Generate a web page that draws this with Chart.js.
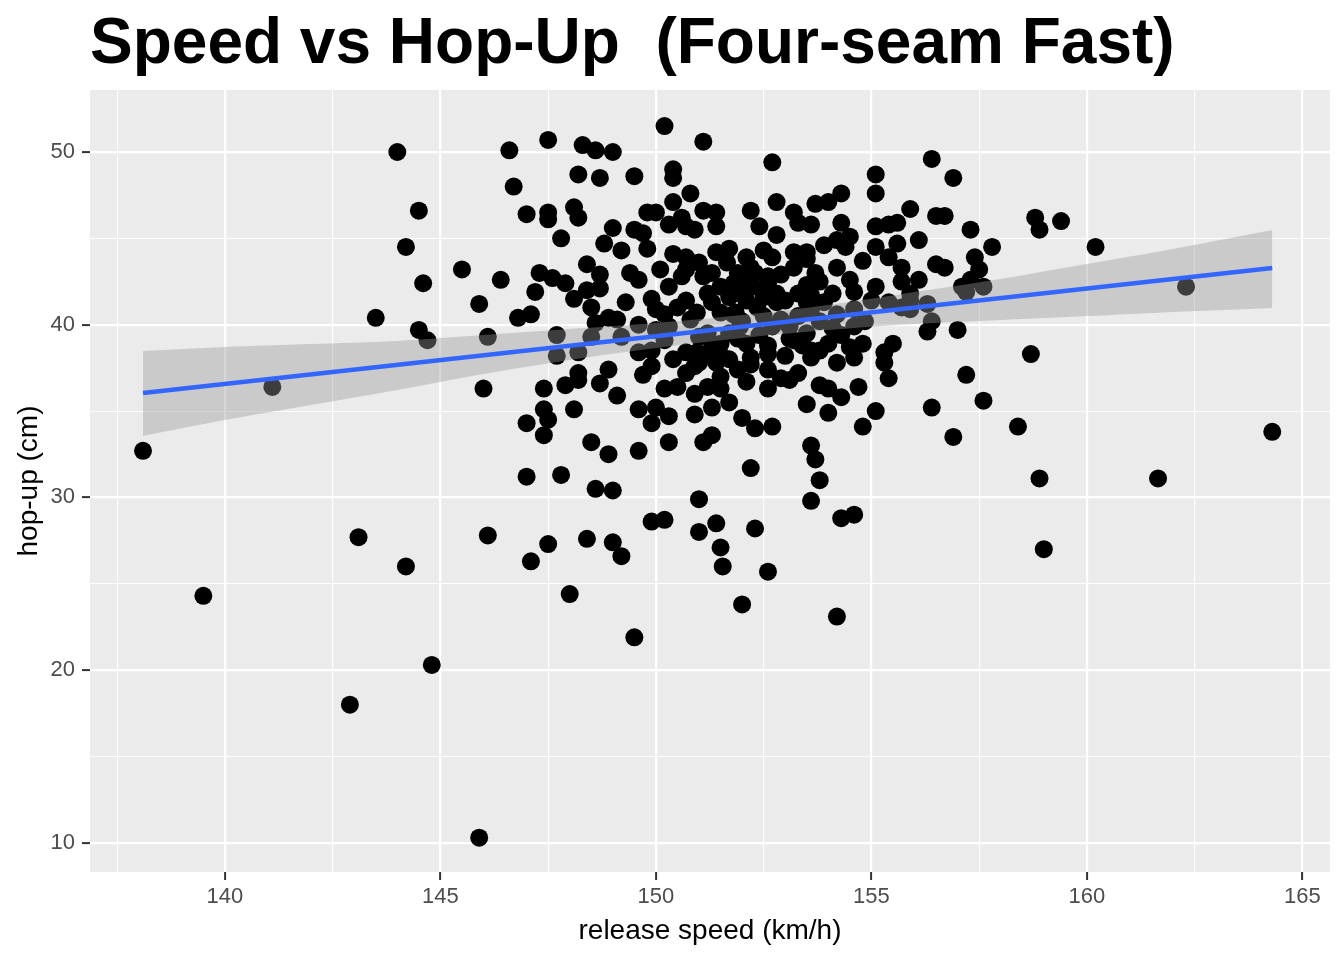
<!DOCTYPE html>
<html>
<head>
<meta charset="utf-8">
<title>Speed vs Hop-Up (Four-seam Fast)</title>
<script src="https://cdn.jsdelivr.net/npm/chart.js@4/dist/chart.umd.min.js"></script>
<style>
  html, body { margin: 0; padding: 0; background: #ffffff; }
  #wrap { position: relative; width: 1344px; height: 960px; }
  #chart { position: absolute; left: 0; top: 0; }
  #title {
    position: absolute; left: 90px; top: 9px; margin: 0;
    font: bold 64px "Liberation Sans", Arial, sans-serif; line-height: 64px;
    color: #000000; white-space: pre;
  }
</style>
</head>
<body>
<div id="wrap">
  <canvas id="chart" width="1344" height="960"></canvas>
  <h1 id="title">Speed vs Hop-Up  (Four-seam Fast)</h1>
</div>
<script>
// release speed (km/h) of each pitch
const speeds = [
  138.1, 139.5, 141.1, 142.9, 143.1, 143.5, 144.0, 144.2, 144.2, 144.5, 144.6, 144.5, 144.7, 144.8, 145.5,
  145.9, 145.9, 146.0, 146.1, 146.1, 146.4, 146.6, 146.7, 146.8, 147.0, 147.0, 147.0, 147.1, 147.1,
  147.5, 148.3, 148.6, 149.0, 150.2, 148.2, 148.7, 149.5, 150.4, 150.4, 150.8, 151.1, 147.5, 147.5, 148.1,
  148.2, 147.8, 149.0, 148.8, 149.2, 149.5, 149.7, 149.8, 149.8, 150.0, 150.4, 150.6, 150.3, 150.7, 150.9,
  147.3, 147.2, 147.6, 147.9, 148.4, 148.7, 148.7, 148.4, 148.1, 148.5, 148.9, 149.1, 148.6, 149.4, 149.6,
  149.3, 149.9, 150.1, 150.4, 150.7, 147.7,
  148.5, 148.2, 147.7, 149.6, 150.2, 147.4, 147.9, 148.2, 148.2, 148.7, 148.9, 149.9, 149.1, 150.2, 150.5,
  150.9, 147.4, 147.5, 147.4, 148.1, 149.6, 150.0, 150.3, 149.9, 150.9, 148.5, 148.9, 149.6, 150.3, 147.8,
  148.6, 149.0, 151.0, 149.9, 150.2, 147.5, 148.4, 149.0, 151.0,
  152.7, 155.1, 155.1, 151.1, 151.4, 151.4, 152.2, 152.4, 152.8, 152.8, 153.2, 153.3, 153.6, 153.7, 154.0,
  154.3, 154.3, 154.5, 154.4, 153.9, 153.5, 155.1, 155.4, 155.6, 155.9, 155.1, 155.6, 156.1, 155.4, 155.7,
  155.7, 155.1, 155.9, 154.5, 154.6, 153.7, 154.1, 151.7, 151.8, 152.5, 152.7, 152.2, 152.3, 152.6, 152.8,
  152.5, 151.8, 153.5, 153.6,
  155.5, 155.3, 155.4, 154.7, 154.3, 155.1, 154.8, 154.0, 153.8, 154.0, 153.1, 152.9, 153.3, 153.6, 154.2,
  154.6, 154.8, 153.1, 152.6, 152.1, 151.5, 151.0, 151.0, 151.4, 151.5, 151.7, 151.9, 152.2, 152.1, 151.2,
  151.5, 151.7, 151.3, 152.0, 152.3, 152.7, 151.3, 151.1, 153.6, 153.7, 152.2, 153.8, 153.6, 151.4, 152.3,
  154.3, 154.6, 151.5,
  149.5, 148.0, 149.2, 151.55, 152.0, 152.6, 154.2,
  156.4, 156.9, 156.5, 156.7, 157.3, 157.4, 156.5, 156.7, 156.1, 157.5, 157.8, 157.1, 157.3, 157.2, 157.6,
  156.3, 156.4, 156.3, 157.0, 155.9, 156.4, 157.2, 156.9, 157.6, 158.4, 158.7, 158.8, 158.9, 159.4, 160.2,
  162.3, 158.9, 159.0, 161.65, 164.3,
  154.2, 154.8, 153.9, 154.6, 155.0, 155.4, 155.7, 155.9, 154.85, 154.6, 154.3, 154.5, 154.0, 153.8, 155.3,
  151.0, 151.4, 150.7, 151.1, 151.65, 151.9, 152.1, 152.6, 153.2, 153.5, 150.0, 150.3, 150.5, 150.7, 150.95,
  150.8, 151.2, 151.3, 151.5, 151.7, 151.95, 152.25, 152.1, 152.35, 152.8, 153.0, 153.3, 153.5, 151.5, 150.0,
  150.3, 151.2, 151.7, 151.95, 151.85, 152.7, 153.1, 153.2, 153.5, 149.9, 150.7, 150.95, 151.5, 152.2, 152.6,
  153.0, 153.6,
  150.6, 151.3, 152.0, 152.9, 153.2, 153.8, 154.2, 152.0, 152.5, 153.3, 153.8, 154.2, 153.6, 152.9, 151.3,
  151.9, 152.4, 153.4, 154.1, 150.4, 150.7, 151.2, 152.6, 150.2, 149.6, 149.2, 149.7, 150.9, 152.6, 153.5
];

// hop-up (cm) of each pitch, same order as speeds
const hopUps = [
  32.7, 24.3, 36.4, 18.0, 27.7, 40.4, 50.0, 26.0, 44.5, 46.6, 42.4, 39.7, 39.1, 20.3, 43.2,
  10.3, 41.2, 36.3, 39.3, 27.8, 42.6, 50.1, 48.0, 40.4, 46.4, 31.2, 34.3, 26.3, 40.6,
  50.7, 50.4, 50.1, 50.0, 51.5, 48.7, 48.5, 48.6, 49.0, 48.5, 47.6, 50.6, 46.5, 46.1, 46.8,
  46.2, 45.0, 45.6, 44.7, 44.3, 45.5, 45.3, 44.4, 46.5, 46.5, 47.1, 46.2, 45.8, 45.7, 45.5,
  43.0, 41.9, 42.7, 42.4, 43.5, 42.9, 42.1, 42.0, 41.5, 41.0, 40.4, 40.3, 40.1, 43.0, 42.6,
  41.3, 41.5, 43.2, 44.1, 43.9, 39.4,
  39.3, 38.4, 38.2, 38.4, 39.1, 36.3, 36.5, 37.2, 36.8, 36.6, 37.4, 37.6, 35.9, 36.3, 36.4,
  37.6, 35.1, 34.5, 33.6, 35.1, 35.1, 35.2, 34.7, 34.3, 34.8, 33.2, 32.5, 32.7, 33.2, 31.3,
  30.5, 30.4, 29.9, 28.6, 28.7, 27.3, 27.6, 27.4, 28.0,
  49.4, 48.7, 47.6, 46.6, 46.5, 45.7, 46.6, 45.7, 45.2, 47.1, 46.5, 45.9, 45.8, 47.0, 47.1,
  47.6, 45.9, 45.1, 44.5, 44.6, 44.2, 45.7, 45.8, 45.9, 46.7, 44.5, 44.7, 44.9, 43.9, 43.3,
  42.5, 42.2, 41.8, 42.6, 41.9, 43.0, 41.8, 44.4, 42.4, 44.3, 43.9, 43.3, 43.0, 42.4, 41.8,
  41.6, 40.6, 42.3, 41.7,
  38.9, 37.8, 36.9, 36.4, 35.8, 35.0, 34.1, 34.9, 36.5, 36.3, 36.8, 36.9, 37.2, 38.1, 37.8,
  38.1, 38.9, 39.2, 38.8, 38.9, 38.9, 39.3, 37.8, 37.8, 37.0, 38.0, 37.4, 37.7, 36.7, 36.4,
  36.3, 35.5, 35.2, 34.6, 34.0, 34.1, 33.6, 33.2, 33.0, 32.2, 31.7, 31.0, 29.8, 28.5, 28.2,
  28.8, 29.0, 27.1,
  21.9, 24.4, 26.6, 26.0, 23.8, 25.7, 23.1,
  49.6, 48.5, 46.3, 46.3, 45.5, 43.9, 43.5, 43.3, 42.6, 43.2, 44.5, 42.2, 42.6, 41.9, 42.2,
  41.2, 40.2, 39.6, 39.7, 41.4, 35.2, 37.1, 33.5, 35.6, 34.1, 38.3, 46.2, 45.5, 46.0, 44.5,
  42.2, 31.1, 27.0, 31.1, 33.8,
  44.9, 43.7, 41.3, 40.9, 41.4, 41.3, 41.0, 40.9, 40.2, 39.9, 39.4, 38.7, 38.9, 38.5, 38.4,
  43.6, 44.2, 43.2, 42.8, 43.6, 43.0, 43.9, 42.8, 44.2, 43.8, 40.9, 42.2, 41.0, 41.4, 40.7,
  40.3, 41.8, 41.3, 42.2, 41.6, 41.8, 42.2, 41.4, 41.0, 41.3, 41.4, 41.8, 41.3, 40.7, 39.7,
  39.9, 39.5, 39.5, 39.9, 40.7, 39.9, 39.9, 39.1, 39.5, 38.5, 38.4, 38.4, 38.25, 38.1, 38.3,
  38.2, 38.5,
  42.8, 43.0, 42.5, 42.9, 43.3, 42.5, 43.3, 40.2, 40.5, 40.5, 40.2, 40.6, 40.9, 40.3, 38.7,
  39.2, 39.4, 38.8, 39.8, 38.0, 37.2, 38.3, 37.4, 40.6, 40.0, 39.3, 37.1, 36.0, 36.3, 35.4
];

// linear fit and its confidence band
const fitSpeeds = [138.1, 164.3];
const fitHopUps = [36.05, 43.28];
const bandSpeeds = [138.1, 140, 142, 144, 146, 148, 150, 152, 154, 156, 158, 160, 162, 164.3];
const bandUpper = [38.48, 38.71, 38.88, 39.06, 39.40, 39.75, 40.10, 40.56, 41.14, 41.89, 42.65, 43.51, 44.38, 45.48];
const bandLower = [33.56, 34.48, 35.35, 36.22, 37.15, 37.96, 38.65, 39.23, 39.69, 40.04, 40.27, 40.50, 40.74, 40.97];

const xTickLabels = [140, 145, 150, 155, 160, 165];
const yTickLabels = [10, 20, 30, 40, 50];

const FONT = '"Liberation Sans", Arial, Helvetica, sans-serif';
Chart.defaults.font.family = FONT;

// grey panel behind the plot
const panelBg = {
    id: 'panelBg',
    beforeDraw(chart) {
        const a = chart.chartArea;
        const ctx = chart.ctx;
        ctx.save();
        ctx.fillStyle = '#EBEBEB';
        ctx.fillRect(a.left, a.top, a.right - a.left, a.bottom - a.top);
        ctx.restore();
    }
};

const isMajor = (list, v) => list.some(t => Math.abs(t - v) < 1e-6);

new Chart(document.getElementById('chart'), {
    type: 'scatter',
    data: {
        datasets: [
            {
                label: 'fit',
                data: fitSpeeds.map((s, i) => ({ x: s, y: fitHopUps[i] })),
                showLine: true,
                borderColor: '#3366FF',
                borderWidth: 4.5,
                pointRadius: 0,
                fill: false,
                order: 1
            },
            {
                label: 'band upper',
                data: bandSpeeds.map((s, i) => ({ x: s, y: bandUpper[i] })),
                showLine: true,
                borderWidth: 0,
                borderColor: 'rgba(0,0,0,0)',
                backgroundColor: 'rgba(153,153,153,0.4)',
                pointRadius: 0,
                tension: 0.3,
                fill: '+1',
                order: 2
            },
            {
                label: 'band lower',
                data: bandSpeeds.map((s, i) => ({ x: s, y: bandLower[i] })),
                showLine: true,
                borderWidth: 0,
                borderColor: 'rgba(0,0,0,0)',
                pointRadius: 0,
                tension: 0.3,
                fill: false,
                order: 2
            },
            {
                label: 'pitches',
                data: speeds.map((s, i) => ({ x: s, y: hopUps[i] })),
                backgroundColor: '#000000',
                borderWidth: 0,
                pointRadius: 9,
                pointHoverRadius: 9,
                order: 3
            }
        ]
    },
    options: {
        responsive: false,
        devicePixelRatio: 1,
        animation: false,
        events: [],
        layout: { padding: { top: 90, right: 14, bottom: 0, left: 0 } },
        plugins: {
            legend: { display: false },
            tooltip: { enabled: false }
        },
        scales: {
            x: {
                type: 'linear',
                min: 136.87,
                max: 165.64,
                border: { display: false },
                grid: {
                    color: '#FFFFFF',
                    lineWidth: c => isMajor(xTickLabels, c.tick.value) ? 2.2 : 1.1,
                    tickLength: 8,
                    tickWidth: 2,
                    tickColor: c => isMajor(xTickLabels, c.tick.value) ? '#333333' : 'rgba(0,0,0,0)'
                },
                ticks: {
                    stepSize: 2.5,
                    includeBounds: false,
                    autoSkip: false,
                    maxRotation: 0,
                    padding: 4,
                    color: '#4D4D4D',
                    font: { size: 22 },
                    callback: v => isMajor(xTickLabels, v) ? String(v) : ''
                },
                title: {
                    display: true,
                    text: 'release speed (km/h)',
                    color: '#000000',
                    font: { size: 28 },
                    padding: { top: 0, bottom: 12 }
                },
                afterFit: s => { s.height = 88; }
            },
            y: {
                type: 'linear',
                min: 8.31,
                max: 53.59,
                border: { display: false },
                grid: {
                    color: '#FFFFFF',
                    lineWidth: c => isMajor(yTickLabels, c.tick.value) ? 2.2 : 1.1,
                    tickLength: 8,
                    tickWidth: 2,
                    tickColor: c => isMajor(yTickLabels, c.tick.value) ? '#333333' : 'rgba(0,0,0,0)'
                },
                ticks: {
                    stepSize: 5,
                    includeBounds: false,
                    autoSkip: false,
                    padding: 7,
                    color: '#4D4D4D',
                    font: { size: 22 },
                    callback: v => isMajor(yTickLabels, v) ? String(v) : ''
                },
                title: {
                    display: true,
                    text: 'hop-up (cm)',
                    color: '#000000',
                    font: { size: 28 },
                    padding: { top: 12, bottom: 0 }
                },
                afterFit: s => { s.width = 90; }
            }
        }
    },
    plugins: [panelBg]
});
</script>
</body>
</html>
